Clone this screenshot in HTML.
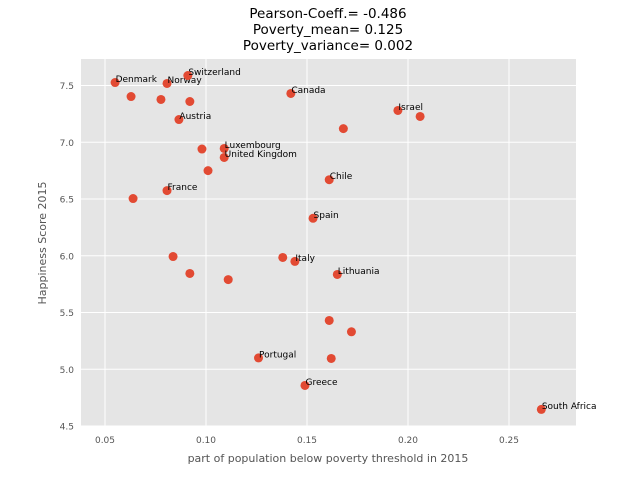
<!DOCTYPE html>
<html><head><meta charset="utf-8"><style>
body{margin:0;background:#fff;font-family:"Liberation Sans","DejaVu Sans",sans-serif}
svg text{font-family:"DejaVu Sans","Liberation Sans",sans-serif}
</style></head><body>
<svg id="chart" width="640" height="480">
<text x="328" y="18" font-size="13.5" text-anchor="middle">Pearson-Coeff.= -0.486</text>
<text x="328" y="34" font-size="13.5" text-anchor="middle">Poverty_mean= 0.125</text>
<text x="328" y="50" font-size="13.5" text-anchor="middle">Poverty_variance= 0.002</text>
<rect x="81" y="59" width="495" height="367" fill="#e5e5e5"/>
<g id="grid"></g><g id="ticks"></g><g id="pts"></g>
<text x="328" y="462" font-size="11" fill="#555" text-anchor="middle">part of population below poverty threshold in 2015</text>
<text transform="translate(46,243) rotate(-90)" font-size="11" fill="#555" text-anchor="middle">Happiness Score 2015</text>
</svg>
<script>
const poverty=[0.055,0.0807,0.091,0.0629,0.0777,0.092,0.0866,0.142,0.195,0.206,0.168,0.109,0.098,0.109,0.101,0.161,0.0807,0.0639,0.153,0.0837,0.144,0.138,0.092,0.111,0.165,0.161,0.172,0.126,0.162,0.149,0.266];
const happiness=[7.526,7.518,7.588,7.403,7.377,7.359,7.20,7.43,7.28,7.227,7.12,6.945,6.94,6.866,6.75,6.67,6.574,6.504,6.33,5.993,5.95,5.985,5.844,5.79,5.835,5.43,5.33,5.10,5.095,4.857,4.646];
const labels=["Denmark","Norway","Switzerland","","","","Austria","Canada","Israel","","","Luxembourg","","United Kingdom","","Chile","France","","Spain","","Italy","","","","Lithuania","","","Portugal","","Greece","South Africa"];
const xTicks=[0.05,0.10,0.15,0.20,0.25];
const xTickLabels=["0.05","0.10","0.15","0.20","0.25"];
const yTicks=[4.5,5.0,5.5,6.0,6.5,7.0,7.5];
const yTickLabels=["4.5","5.0","5.5","6.0","6.5","7.0","7.5"];
const NS="http://www.w3.org/2000/svg";
function sx(v){return 105+(v-0.05)*2020;}
function sy(v){return 426-(v-4.5)*113.5;}
function mk(t,a,p){const e=document.createElementNS(NS,t);for(const k in a)e.setAttribute(k,a[k]);document.getElementById(p).appendChild(e);return e;}
xTicks.forEach((v,i)=>{
 const l=mk('line',{x1:sx(v),x2:sx(v),y1:59,y2:426,stroke:'#fff','stroke-width':1},'grid');
 
 
 const t=mk('text',{x:sx(v),y:443,'font-size':9,fill:'#555','text-anchor':'middle'},'ticks');
 t.textContent=xTickLabels[i];
 
 
});
yTicks.forEach((v,i)=>{
 const l=mk('line',{x1:81,x2:576,y1:sy(v),y2:sy(v),stroke:'#fff','stroke-width':1},'grid');
 
 
 const t=mk('text',{x:74,y:sy(v)+3.5,'font-size':9,fill:'#555','text-anchor':'end'},'ticks');
 t.textContent=yTickLabels[i];
 
 
});
poverty.forEach((p,i)=>{
 const c=mk('circle',{cx:sx(p),cy:sy(happiness[i]),r:4.5,fill:'#e24a33'},'pts');
 
 
 if(labels[i]){
  const t=mk('text',{x:sx(p)+0.5,y:sy(happiness[i])-0.5,'font-size':9,fill:'#000'},'pts');
  t.textContent=labels[i];
  
  
 }
});
</script>
</body></html>
